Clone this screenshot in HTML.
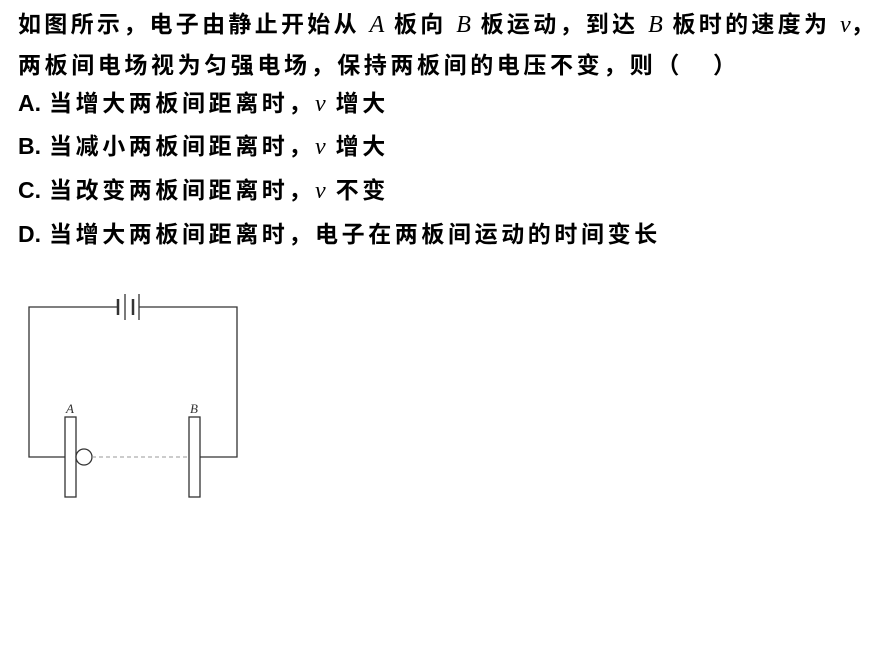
<!DOCTYPE html>
<html><head><meta charset="utf-8"><style>
body{margin:0;width:890px;height:659px;background:#fff;position:relative;overflow:hidden}
.l{position:absolute;left:18px;white-space:nowrap;font-family:"Liberation Sans","Noto Sans CJK SC",sans-serif;font-size:23px;font-weight:bold;letter-spacing:3.6px;color:#000;line-height:30px}
.i{font-family:"Liberation Serif",serif;font-style:italic;font-weight:normal;font-size:24px;letter-spacing:0}
.p{letter-spacing:0;display:inline-block;width:34px;margin-right:-3px}
</style></head><body>
<div class="l" style="top:9px;letter-spacing:3.3px">如图所示，电子由静止开始从 <span class="i">A</span> 板向 <span class="i">B</span> 板运动，到达 <span class="i">B</span> 板时的速度为 <span class="i">v</span>，</div>
<div class="l" style="top:50px">两板间电场视为匀强电场，保持两板间的电压不变，则（&nbsp;&nbsp;&nbsp;）</div>
<div class="l" style="top:88px"><span class="p">A.</span>当增大两板间距离时，<span class="i">v</span> 增大</div>
<div class="l" style="top:131px"><span class="p">B.</span>当减小两板间距离时，<span class="i">v</span> 增大</div>
<div class="l" style="top:175px"><span class="p">C.</span>当改变两板间距离时，<span class="i">v</span> 不变</div>
<div class="l" style="top:219px"><span class="p">D.</span>当增大两板间距离时，电子在两板间运动的时间变长</div>
<svg style="position:absolute;left:0;top:0" width="890" height="659">
<g stroke="#333" fill="none" stroke-width="1.3">
<polyline points="118,307 29,307 29,457 65,457"/>
<polyline points="139,307 237,307 237,457 200,457"/>
<line x1="118" y1="299" x2="118" y2="315" stroke-width="2.5"/>
<line x1="125" y1="294" x2="125" y2="320"/>
<line x1="133" y1="299" x2="133" y2="315" stroke-width="2.5"/>
<line x1="139" y1="294" x2="139" y2="320"/>
<rect x="65" y="417" width="11" height="80" fill="#fff"/>
<rect x="189" y="417" width="11" height="80" fill="#fff"/>
<circle cx="84" cy="457" r="8" fill="#fff"/>
<line x1="92" y1="457" x2="189" y2="457" stroke="#999" stroke-dasharray="4,3" stroke-width="1"/>
</g>
<text x="66" y="413" font-family="Liberation Serif" font-style="italic" font-size="13" fill="#333">A</text>
<text x="190" y="413" font-family="Liberation Serif" font-style="italic" font-size="13" fill="#333">B</text>
</svg>
</body></html>
